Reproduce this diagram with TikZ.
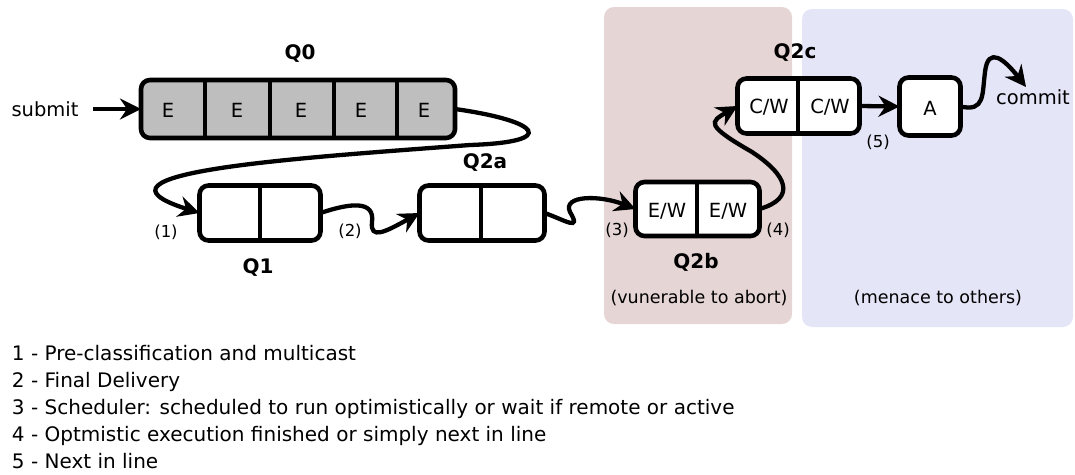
\documentclass[tikz,border=0pt]{standalone}
\usepackage{fontspec}
\setmainfont{DejaVu Sans}
\usetikzlibrary{arrows.meta,calc}

\definecolor{vulnbg}{RGB}{230,213,213}
\definecolor{menacebg}{RGB}{229,229,248}
\definecolor{queuegray}{RGB}{190,190,190}

\begin{document}
\begin{tikzpicture}[x=1pt,y=-1pt,
  every node/.style={inner sep=0pt,outer sep=0pt},
  txt/.style={font=\fontsize{19.5}{23}\selectfont},
  qname/.style={font=\fontsize{20}{24}\selectfont\bfseries},
  small/.style={font=\fontsize{16.5}{20}\selectfont},
  note/.style={font=\fontsize{17.5}{21}\selectfont},
  legend/.style={font=\fontsize{20}{24}\selectfont,anchor=base west},
  qbox/.style={draw=black,line width=4.6pt,rounded corners=9pt,fill=white},
  divider/.style={line width=4.2pt},
  arr/.style={line width=4.3pt,-{Stealth[length=21pt,width=21pt,inset=7pt]}},
]
\useasboundingbox (0,0) rectangle (1075,474);

% background regions
\fill[vulnbg,rounded corners=10pt] (604,7) rectangle (792,324);
\fill[menacebg,rounded corners=10pt] (802,9) rectangle (1073,327);

% Q0
\node[qbox,fill=queuegray,minimum width=314pt,minimum height=58pt] (q0) at (298,109) {};
\foreach \x in {205,270,334,397}
  \draw[divider] (\x,0 |- q0.north) -- (\x,0 |- q0.south);
\node[txt] (e1) at (168,110) {E};
\node[txt] (e2) at (237,110) {E};
\node[txt] (e3) at (301,110) {E};
\node[txt] (e4) at (361,110) {E};
\node[txt] (e5) at (424,110) {E};
\node[qname] (q0name) at (300,54) {Q0};

% Q1
\node[qbox,minimum width=121pt,minimum height=55pt] (q1) at (260,213) {};
\draw[divider] (260,0 |- q1.north) -- (260,0 |- q1.south);
\node[qname] (q1name) at (258,268) {Q1};

% Q2a
\node[qbox,minimum width=125pt,minimum height=55pt] (q2a) at (482,213) {};
\draw[divider] (481,0 |- q2a.north) -- (481,0 |- q2a.south);
\node[qname] (q2aname) at (485,163) {Q2a};

% Q2b
\node[qbox,minimum width=124pt,minimum height=54pt] (q2b) at (697.5,209) {};
\draw[divider] (697,0 |- q2b.north) -- (697,0 |- q2b.south);
\node[txt] (ew1) at (667,211) {E/W};
\node[txt] (ew2) at (728,211) {E/W};
\node[qname] (q2bname) at (696,262) {Q2b};

% Q2c
\node[qbox,minimum width=122pt,minimum height=55pt] (q2c) at (798.5,106) {};
\draw[divider] (798,0 |- q2c.north) -- (798,0 |- q2c.south);
\node[txt] (cw1) at (769,107) {C/W};
\node[txt] (cw2) at (830,107) {C/W};
\node[qname] (q2cname) at (795,53) {Q2c};

% A
\node[qbox,minimum width=61pt,minimum height=58pt] (a) at (930,106.5) {};
\node[txt] (atext) at (930,108) {A};

% end labels
\node[txt] (submit) at (45,109) {submit};
\node[txt] (commit) at (1033,97) {commit};
\coordinate (committip) at (1026,87);

% step numbers
\node[small] (n1) at (166,232) {(1)};
\node[small] (n2) at (350,231) {(2)};
\node[small] (n3) at (617,230) {(3)};
\node[small] (n4) at (778,230) {(4)};
\node[small] (n5) at (878,142) {(5)};

% region captions
\node[note] (vuln) at (699,298) {(vunerable to abort)};
\node[note] (menace) at (938,298) {(menace to others)};

% connectors
\draw[arr] ([xshift=15pt]submit.east) -- (q0.west);
\draw[arr] (q0.east) .. controls +(85,12) and (560,142) .. (470,145)
  .. controls (300,158) and (70,172) .. (q1.west);
\draw[arr] (q1.east) .. controls (350,203) and (375,200) .. (372,222)
  .. controls (370,240) and (385,232) .. (q2a.west);
\draw[arr] (q2a.east) .. controls (565,220) and (582,232) .. (570,212)
  .. controls (562,195) and (600,195) .. (q2b.west);
\draw[arr] (q2b.east) .. controls (797,198) and (787,175) .. (752,152)
  .. controls (705,125) and (710,122) .. (q2c.west);
\draw[arr] (q2c.east) -- (a.west);
\draw[arr] (a.east) .. controls (985,112) and (982,95) .. (985,72)
  .. controls (988,45) and (1005,60) .. (committip);

% legend
\node[legend] (l1) at (12,360) {1 - Pre-classification and multicast};
\node[legend] (l2) at (12,387) {2 - Final Delivery};
\node[legend] (l3) at (12,414) {3 - Scheduler: scheduled to run optimistically or wait if remote or active};
\node[legend] (l4) at (12,441) {4 - Optmistic execution finished or simply next in line};
\node[legend] (l5) at (12,468) {5 - Next in line};
\end{tikzpicture}
\end{document}
